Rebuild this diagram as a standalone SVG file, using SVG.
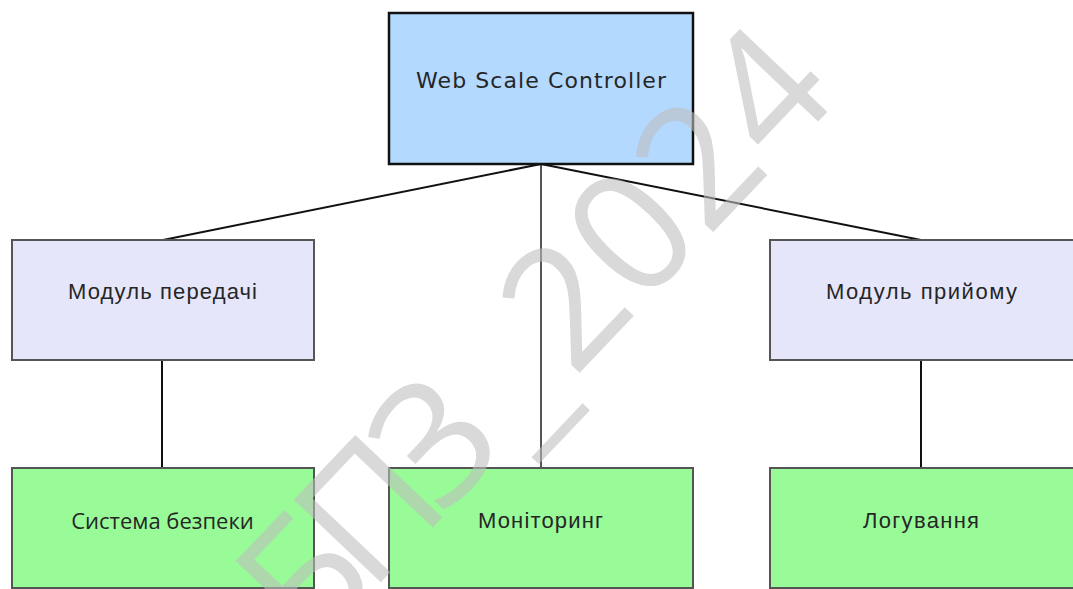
<svg xmlns="http://www.w3.org/2000/svg" width="1073" height="589" viewBox="0 0 1073 589">
  <style>
    .box { stroke: #555555; stroke-width: 2; }
    .root { fill: #b3d9ff; stroke: #111111; stroke-width: 2.5; }
    .mid { fill: #e6e6fa; }
    .leaf { fill: #98fb98; }
    .lbl { font-size: 22px; fill: #262626; text-anchor: middle; }
    .seg { font-family: "Open Sans", "Noto Sans", sans-serif; }
    .ari { font-family: "Liberation Sans", Arial, sans-serif; }
    .wide { font-family: "DejaVu Sans", Verdana, sans-serif; }
    .edge { fill: none; stroke: #111111; stroke-width: 2; }
    .edge-grey { fill: none; stroke: #555555; stroke-width: 2; }
    .mark { font-family: "Open Sans", "Noto Sans", sans-serif; font-size: 168px; fill: #bebebe; opacity: 0.58; text-anchor: middle; }
  </style>
  <rect x="0" y="0" width="1073" height="589" fill="#ffffff"/>

  <g id="connectors">
    <line class="edge" x1="541" y1="164" x2="163" y2="240"/>
    <line class="edge" x1="541" y1="164" x2="921" y2="240"/>
    <line class="edge-grey" x1="541" y1="164" x2="541" y2="468"/>
    <line class="edge" x1="162" y1="360" x2="162" y2="468"/>
    <line class="edge" x1="921" y1="360" x2="921" y2="468"/>
  </g>

  <g id="web-scale-controller">
    <rect class="root" x="389" y="13" width="304" height="151"/>
    <text class="lbl wide" x="541" y="88" font-size="23.5" textLength="250">Web Scale Controller</text>
  </g>

  <g id="transmit-module">
    <rect class="box mid" x="12" y="240" width="302" height="120"/>
    <text class="lbl ari" x="162.5" y="299" textLength="189">Модуль передачі</text>
  </g>

  <g id="receive-module">
    <rect class="box mid" x="770" y="240" width="304" height="120"/>
    <text class="lbl ari" x="921.5" y="299" textLength="191">Модуль прийому</text>
  </g>

  <g id="security-system">
    <rect class="box leaf" x="12" y="468" width="302" height="120"/>
    <text class="lbl seg" x="162.5" y="529" font-size="24">Система безпеки</text>
  </g>

  <g id="monitoring">
    <rect class="box leaf" x="389" y="468" width="304" height="120"/>
    <text class="lbl ari" x="540.5" y="528" textLength="125">Моніторинг</text>
  </g>

  <g id="logging">
    <rect class="box leaf" x="770" y="468" width="304" height="120"/>
    <text class="lbl ari" x="921" y="528" textLength="116">Логування</text>
  </g>

  <!-- diagonal watermark over the chart, glyphs evenly spaced along the baseline -->
  <text class="mark" transform="translate(607 344) rotate(-46.5)" x="-378 -284 -190 -97 0 97 194 293" y="0 0 0 8 0 0 0 0">БПЗ_2024</text>
</svg>
